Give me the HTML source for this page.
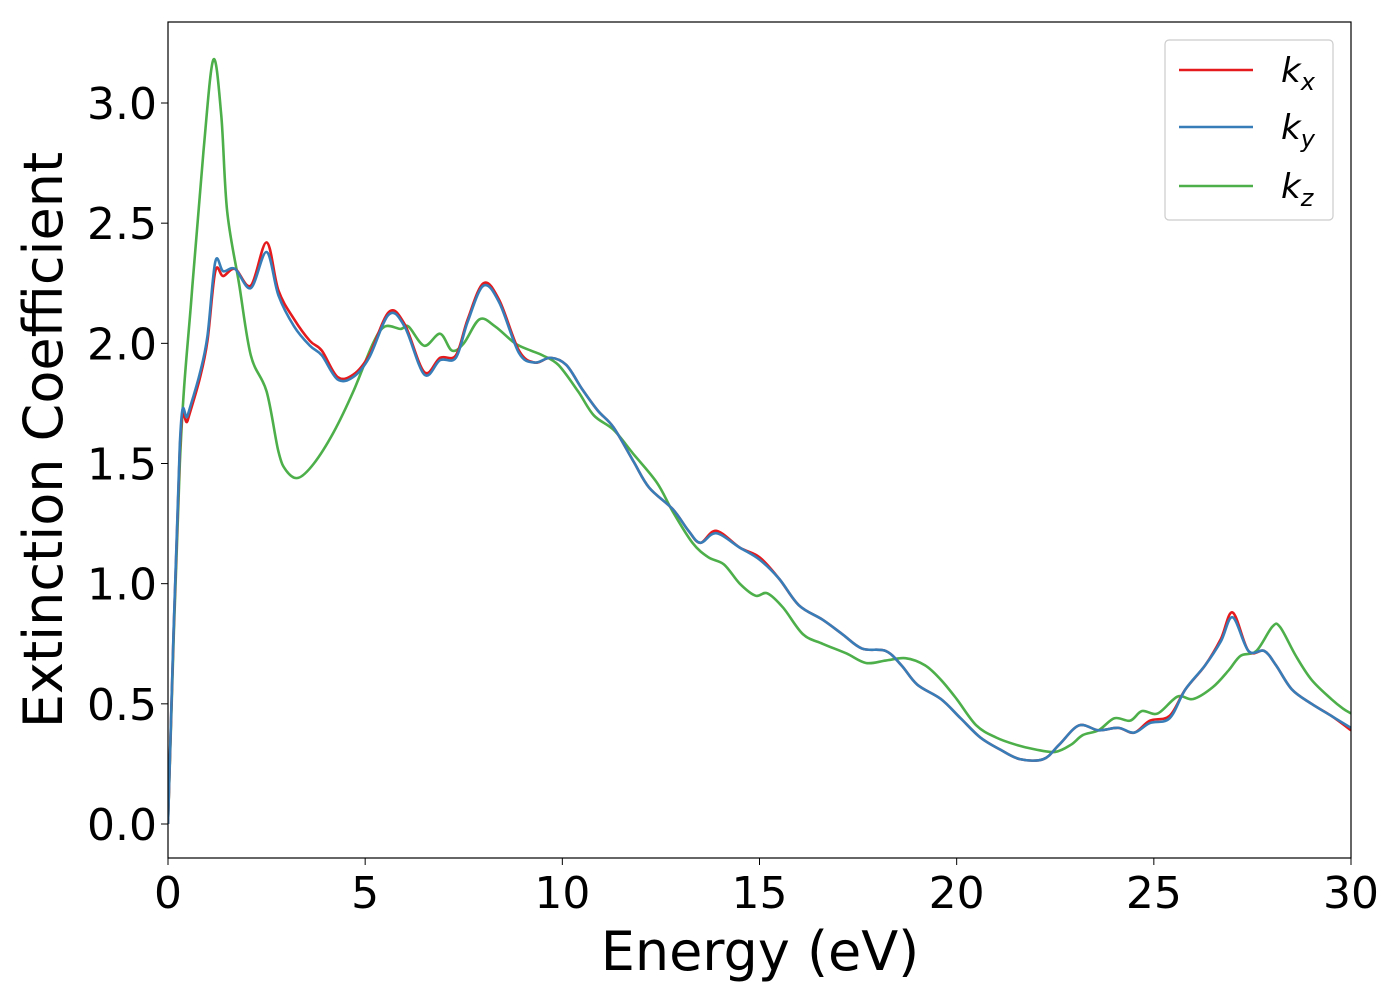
<!DOCTYPE html>
<html><head><meta charset="utf-8"><style>
body{margin:0;background:#fff}
svg{font-family:"DejaVu Sans","Liberation Sans",sans-serif}
</style></head><body>
<svg id="chart" width="1400" height="1000" xmlns="http://www.w3.org/2000/svg">
<rect width="1400" height="1000" fill="#fff"/>
<g id="plot"></g>
<g id="axes"></g>
<text x="760" y="970" font-size="54" text-anchor="middle">Energy (eV)</text>
<text transform="translate(62,440) rotate(-90)" font-size="54" text-anchor="middle">Extinction Coefficient</text>
<g>
<rect x="1165" y="40" width="168" height="180" rx="4" fill="#fff" stroke="#ccc" stroke-width="1.2"/>
<g><line x1="1179" y1="70" x2="1253" y2="70" stroke="#e41a1c" stroke-width="2.5"/><text x="1281" y="82" font-size="34" font-style="italic">k<tspan font-size="24" dy="8">x</tspan></text></g>
<g><line x1="1179" y1="127" x2="1253" y2="127" stroke="#377eb8" stroke-width="2.5"/><text x="1281" y="139" font-size="34" font-style="italic">k<tspan font-size="24" dy="8">y</tspan></text></g>
<g><line x1="1179" y1="186" x2="1253" y2="186" stroke="#4daf4a" stroke-width="2.5"/><text x="1281" y="198" font-size="34" font-style="italic">k<tspan font-size="24" dy="8">z</tspan></text></g>
</g>
</svg>
<script>
const xTicks=[0,5,10,15,20,25,30];
const yTicks=[0.0,0.5,1.0,1.5,2.0,2.5,3.0];
const kxE=[0,0.3,0.5,0.8,1.0,1.2,1.4,1.7,2.1,2.5,2.8,3.2,3.6,3.9,4.3,4.7,5.1,5.6,6.0,6.5,6.9,7.3,7.6,8.0,8.4,8.9,9.3,9.7,10.1,10.5,10.9,11.3,11.8,12.2,12.8,13.2,13.5,13.9,14.5,15.0,15.5,16.0,16.6,17.1,17.6,18.2,18.6,19.0,19.6,20.1,20.6,21.1,21.6,22.2,22.6,23.1,23.6,24.1,24.5,24.9,25.4,25.8,26.3,26.7,27.0,27.4,27.8,28.1,28.5,29.0,29.5,30];
const kxV=[0,1.56,1.68,1.85,2.01,2.30,2.28,2.31,2.24,2.42,2.22,2.10,2.01,1.97,1.86,1.87,1.95,2.13,2.08,1.88,1.94,1.95,2.10,2.25,2.18,1.97,1.92,1.94,1.91,1.81,1.72,1.65,1.51,1.40,1.31,1.22,1.17,1.22,1.15,1.11,1.02,0.91,0.85,0.79,0.73,0.72,0.66,0.58,0.52,0.44,0.36,0.31,0.27,0.27,0.33,0.41,0.39,0.40,0.38,0.43,0.45,0.56,0.66,0.77,0.88,0.72,0.72,0.66,0.56,0.50,0.45,0.39];
const kyE=kxE;
const kyV=[0,1.58,1.70,1.87,2.03,2.34,2.30,2.31,2.23,2.38,2.20,2.07,1.99,1.95,1.85,1.86,1.94,2.12,2.07,1.87,1.93,1.94,2.09,2.24,2.17,1.96,1.92,1.94,1.91,1.81,1.72,1.65,1.51,1.40,1.31,1.22,1.17,1.21,1.15,1.10,1.02,0.91,0.85,0.79,0.73,0.72,0.66,0.58,0.52,0.44,0.36,0.31,0.27,0.27,0.33,0.41,0.39,0.40,0.38,0.42,0.44,0.56,0.66,0.76,0.86,0.72,0.72,0.66,0.56,0.50,0.45,0.40];
const kzE=[0,0.3,0.6,0.9,1.15,1.35,1.5,1.8,2.1,2.5,2.8,3.0,3.3,3.7,4.2,4.7,5.2,5.5,5.9,6.1,6.5,6.9,7.2,7.5,7.9,8.3,8.8,9.2,9.5,9.9,10.4,10.8,11.3,11.8,12.4,12.8,13.3,13.7,14.1,14.5,14.9,15.2,15.6,16.1,16.6,17.2,17.7,18.2,18.7,19.2,19.6,20.0,20.5,21.0,21.5,22.0,22.5,22.9,23.2,23.6,24.0,24.4,24.7,25.1,25.6,26.0,26.5,26.9,27.2,27.6,28.0,28.2,28.6,29.0,29.5,29.8,30];
const kzV=[0,1.5,2.2,2.8,3.18,2.95,2.55,2.25,1.95,1.8,1.55,1.47,1.44,1.50,1.63,1.80,2.00,2.07,2.06,2.07,1.99,2.04,1.97,2.00,2.10,2.07,2.00,1.97,1.95,1.91,1.80,1.70,1.64,1.54,1.42,1.30,1.17,1.11,1.08,1.00,0.95,0.96,0.90,0.79,0.75,0.71,0.67,0.68,0.69,0.66,0.60,0.52,0.41,0.36,0.33,0.31,0.30,0.33,0.37,0.39,0.44,0.43,0.47,0.46,0.53,0.52,0.57,0.64,0.70,0.72,0.82,0.82,0.70,0.60,0.52,0.48,0.46];
const X0=168,X1=1351,Y0=22,Y1=858;
const xs=e=>X0+(e-0)/30*(X1-X0);
const ys=v=>824-v*240.33;
const NS="http://www.w3.org/2000/svg";
const plot=document.getElementById('plot'),axes=document.getElementById('axes');
const cp=document.createElementNS(NS,'clipPath');cp.setAttribute('id','clip');
const cr=document.createElementNS(NS,'rect');cr.setAttribute('x',X0);cr.setAttribute('y',Y0);cr.setAttribute('width',X1-X0);cr.setAttribute('height',Y1-Y0);cp.appendChild(cr);plot.appendChild(cp);
function pathD(E,V){const p=E.map((e,i)=>[xs(e),ys(V[i])]);let d='M'+p[0][0]+','+p[0][1];
for(let i=0;i<p.length-1;i++){const a=p[Math.max(0,i-1)],b=p[i],c=p[i+1],n=p[Math.min(p.length-1,i+2)];
const c1=[b[0]+(c[0]-a[0])/6,b[1]+(c[1]-a[1])/6],c2=[c[0]-(n[0]-b[0])/6,c[1]-(n[1]-b[1])/6];
d+=' C'+c1.join(',')+' '+c2.join(',')+' '+c.join(',');}return d;}
[[kzE,kzV,'#4daf4a','series-kz'],[kxE,kxV,'#e41a1c','series-kx'],[kyE,kyV,'#377eb8','series-ky']].forEach(s=>{
const p=document.createElementNS(NS,'path');


p.setAttribute('d',pathD(s[0],s[1]));p.setAttribute('fill','none');p.setAttribute('stroke',s[2]);p.setAttribute('stroke-width','2.6');p.setAttribute('clip-path','url(#clip)');plot.appendChild(p);});
const fr=document.createElementNS(NS,'rect');


fr.setAttribute('x',X0);fr.setAttribute('y',Y0);fr.setAttribute('width',X1-X0);fr.setAttribute('height',Y1-Y0);fr.setAttribute('fill','none');fr.setAttribute('stroke','#000');fr.setAttribute('stroke-width','1.2');axes.appendChild(fr);
xTicks.forEach(t=>{const x=xs(t);
const l=document.createElementNS(NS,'line');l.setAttribute('x1',x);l.setAttribute('x2',x);l.setAttribute('y1',Y1);l.setAttribute('y2',Y1+7);l.setAttribute('stroke','#000');axes.appendChild(l);
const tx=document.createElementNS(NS,'text');


tx.setAttribute('x',x);tx.setAttribute('y',908);tx.setAttribute('font-size','44');tx.setAttribute('text-anchor','middle');tx.textContent=t;axes.appendChild(tx);});
yTicks.forEach(t=>{const y=ys(t);
const l=document.createElementNS(NS,'line');l.setAttribute('x1',X0-7);l.setAttribute('x2',X0);l.setAttribute('y1',y);l.setAttribute('y2',y);l.setAttribute('stroke','#000');axes.appendChild(l);
const tx=document.createElementNS(NS,'text');


tx.setAttribute('x',157);tx.setAttribute('y',y+16);tx.setAttribute('font-size','44');tx.setAttribute('text-anchor','end');tx.textContent=t.toFixed(1);axes.appendChild(tx);});
</script>
</body></html>
